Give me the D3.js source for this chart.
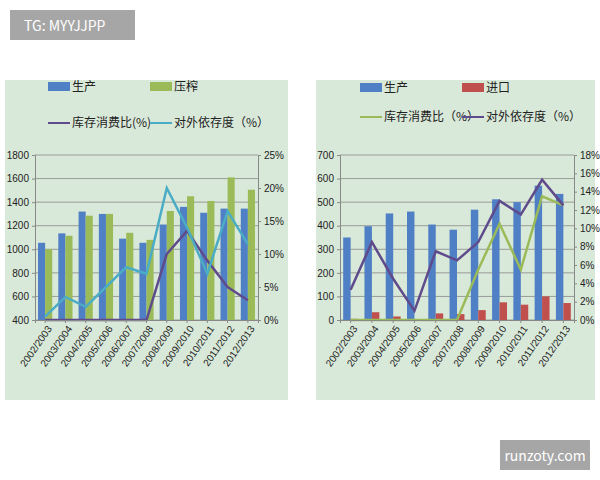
<!DOCTYPE html>
<html><head><meta charset="utf-8">
<script src="https://cdn.jsdelivr.net/npm/d3@7"></script>
<style>body{margin:0;background:#fff;font-family:"Noto Sans CJK SC","Liberation Sans",sans-serif}</style>
</head><body><svg id="c" width="600" height="480"></svg>
<script>
const years = ['2002/2003','2003/2004','2004/2005','2005/2006','2006/2007','2007/2008','2008/2009','2009/2010','2010/2011','2011/2012','2012/2013'];
const leftProd = [1055,1135,1320,1300,1090,1055,1210,1360,1310,1345,1345];
const leftPress = [1000,1115,1285,1300,1140,1080,1325,1450,1410,1610,1505];
const leftStock = [0,0,0,0,0,0,10,13.5,9,5,3];
const leftRely = [0.5,3.5,2,5,8,7,20,14,7,16.5,11.5];
const rightProd = [350,398,452,460,405,383,468,512,500,570,535];
const rightImport = [5,33,15,0,28,25,42,75,65,100,72];
const rightStock = [0,0,0,0,0,0,5.5,10.5,5.5,13.5,12.5];
const rightRely = [3.3,8.5,4.5,1,7.5,6.5,8.5,13,11.5,15.3,12.5];

const svg = d3.select('#c');
const blue = '#4f7fc4', green = '#9bbb59', red = '#c0504d', purple = '#5f4b8b', teal = '#4bacc6';

function panel(o){
  const g = svg.append('g');
  g.append('rect').attr('x', o.bx).attr('y', 80).attr('width', o.bw).attr('height', 320).attr('fill', '#d9e9d9');
  const x = d3.scaleBand().domain(years).range([o.x0, o.x1]).paddingInner(0.3).paddingOuter(0.15);
  const y = d3.scaleLinear().domain(o.yDom).range([320, 155]);
  const y2 = d3.scaleLinear().domain([0, o.y2Max]).range([320, 155]);
  g.append('g').selectAll('line').data(y.ticks(o.yTicks)).join('line')
    .attr('x1', o.x0).attr('x2', o.x1).attr('y1', d => y(d)).attr('y2', d => y(d)).attr('stroke', '#888').attr('stroke-width', 0.8);
  const bw = x.bandwidth() / 2;
  [[o.bar1, o.c1], [o.bar2, o.c2]].forEach(([data, c], k) => {
    g.append('g').selectAll('rect').data(data).join('rect')
      .attr('x', (d, i) => x(years[i]) + k * bw).attr('width', bw)
      .attr('y', d => y(Math.max(d, o.yDom[0]))).attr('height', d => 320 - y(Math.max(d, o.yDom[0])))
      .attr('fill', c);
  });
  const line = d3.line().x((d, i) => x(years[i]) + x.bandwidth() / 2).y(d => y2(d));
  [[o.line1, o.lc1], [o.line2, o.lc2]].forEach(([data, c]) => {
    g.append('path').attr('d', line(data)).attr('fill', 'none').attr('stroke', c).attr('stroke-width', 2.5);
  });
  const ya = g.append('g').attr('transform', `translate(${o.x0},0)`).call(d3.axisLeft(y).ticks(o.yTicks).tickSize(3).tickFormat(d3.format('d')));
  const yb = g.append('g').attr('transform', `translate(${o.x1},0)`).call(d3.axisRight(y2).ticks(o.y2Ticks).tickSize(3).tickFormat(d => d + '%'));
  const xa = g.append('g').attr('transform', 'translate(0,320)').call(d3.axisBottom(x).tickSize(3));
  xa.selectAll('text').attr('transform', 'rotate(-55)').attr('text-anchor', 'end').attr('dx', '-0.3em').attr('dy', '0.5em');
  [ya, yb, xa].forEach(a => {
    a.selectAll('text').attr('font-size', 10).attr('fill', '#222').attr('font-family', 'Liberation Sans Narrow, Liberation Sans, sans-serif');
    a.selectAll('path,line').attr('stroke', '#888');
  });
  // legend
  const lg = g.append('g').attr('font-size', 12).attr('fill', '#222');
  o.legend.forEach(l => {
    if (l.type === 'bar') lg.append('rect').attr('x', l.x).attr('y', l.y - 5).attr('width', 22).attr('height', 9).attr('fill', l.c);
    else lg.append('line').attr('x1', l.x).attr('x2', l.x + 22).attr('y1', l.y).attr('y2', l.y).attr('stroke', l.c).attr('stroke-width', 2);
    lg.append('text').attr('x', l.x + 24).attr('y', l.y + 4).attr('fill', '#222').text(l.t);
  });
}

panel({bx: 5, bw: 283, x0: 35, x1: 258, yDom: [400, 1800], yTicks: 7, y2Max: 25, y2Ticks: 5,
  bar1: leftProd, c1: blue, bar2: leftPress, c2: green, line1: leftStock, lc1: purple, line2: leftRely, lc2: teal,
  legend: [{type:'bar', x: 48, y: 87, c: blue, t: '生产'}, {type:'bar', x: 150, y: 87, c: green, t: '压榨'},
    {type:'line', x: 48, y: 123, c: purple, t: '库存消费比(%)'}, {type:'line', x: 150, y: 123, c: teal, t: '对外依存度（%）'}]});

panel({bx: 316, bw: 279, x0: 340, x1: 574, yDom: [0, 700], yTicks: 7, y2Max: 18, y2Ticks: 9,
  bar1: rightProd, c1: blue, bar2: rightImport, c2: red, line1: rightStock, lc1: green, line2: rightRely, lc2: purple,
  legend: [{type:'bar', x: 360, y: 88, c: blue, t: '生产'}, {type:'bar', x: 462, y: 88, c: red, t: '进口'},
    {type:'line', x: 360, y: 117, c: green, t: '库存消费比（%）'}, {type:'line', x: 462, y: 117, c: purple, t: '对外依存度（%）'}]});

// watermarks
svg.append('rect').attr('x', 10).attr('y', 10).attr('width', 125).attr('height', 30).attr('fill', '#a6a6a6');
svg.append('text').attr('x', 24).attr('y', 31).attr('fill', '#fff').attr('font-size', 14).text('TG: MYYJJPP');
svg.append('rect').attr('x', 500).attr('y', 440).attr('width', 90).attr('height', 30).attr('fill', '#a6a6a6');
svg.append('text').attr('x', 545).attr('y', 461).attr('text-anchor', 'middle').attr('fill', '#fff').attr('font-size', 14).text('runzoty.com');
</script></body></html>
